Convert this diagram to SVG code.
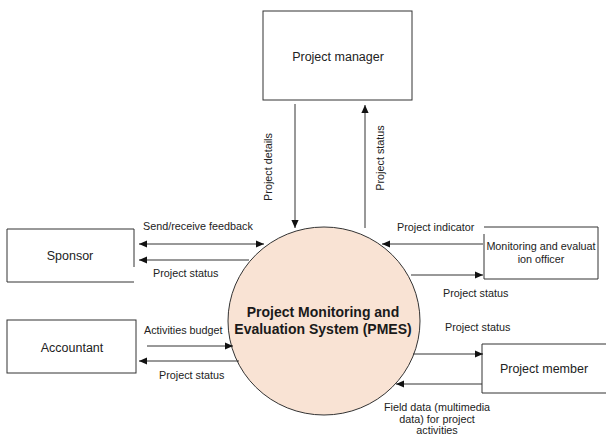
<svg xmlns="http://www.w3.org/2000/svg" width="608" height="437" viewBox="0 0 608 437">
<style>
  .box { fill: #ffffff; stroke: #333333; stroke-width: 1; }
  .node-label { font-family: "Liberation Sans", Arial, sans-serif; font-size: 12.5px; fill: #222222; text-anchor: middle; }
  .small-label { font-family: "Liberation Sans", Arial, sans-serif; font-size: 10.8px; fill: #222222; text-anchor: middle; }
  .edge-label { font-family: "Liberation Sans", Arial, sans-serif; font-size: 10.8px; fill: #222222; }
  .conn { fill: none; stroke: #333333; stroke-width: 1; }
  .center-label { font-family: "Liberation Sans", Arial, sans-serif; font-size: 14px; font-weight: bold; fill: #1a1a1a; text-anchor: middle; }
</style>
<defs>
  <marker id="arrow" viewBox="0 0 10 10" refX="10" refY="5" markerWidth="8" markerHeight="8" markerUnits="userSpaceOnUse" orient="auto-start-reverse">
    <path d="M0,0.5 L10,5 L0,9.5 Z" fill="#111111"/>
  </marker>
</defs>
<rect x="0" y="0" width="608" height="437" fill="#ffffff"/>

<g id="pmes">
  <ellipse cx="324" cy="321" rx="96" ry="94" fill="#f9e3d4" stroke="#333333" stroke-width="1"/>
  <text class="center-label" x="323" y="317">Project Monitoring and</text>
  <text class="center-label" x="323" y="334">Evaluation System (PMES)</text>
</g>

<g id="project-manager">
  <rect class="box" x="263" y="11" width="149" height="89"/>
  <text class="node-label" x="338" y="61">Project manager</text>
</g>

<g id="sponsor">
  <path class="box" d="M134,267 V229 H7 V282 H134"/>
  <text class="node-label" x="70" y="260">Sponsor</text>
</g>

<g id="accountant">
  <rect class="box" x="7" y="320" width="129" height="53"/>
  <text class="node-label" x="72" y="352">Accountant</text>
</g>

<g id="me-officer">
  <path class="box" d="M484,234 V279 H598 V227 H484"/>
  <text class="small-label" x="541" y="250">Monitoring and evaluat</text>
  <text class="small-label" x="541" y="263">ion officer</text>
</g>

<g id="project-member">
  <path class="box" d="M606,344 H482 V393 H606"/>
  <text class="node-label" x="544" y="373">Project member</text>
</g>

<g id="connectors">
  <line class="conn" x1="295" y1="104" x2="295" y2="228" marker-end="url(#arrow)"/>
  <text class="edge-label" transform="translate(272,167) rotate(-90)" text-anchor="middle">Project details</text>

  <line class="conn" x1="365" y1="228" x2="365" y2="105" marker-end="url(#arrow)"/>
  <text class="edge-label" transform="translate(384,158) rotate(-90)" text-anchor="middle">Project status</text>

  <line class="conn" x1="139" y1="244" x2="264" y2="244" marker-start="url(#arrow)" marker-end="url(#arrow)"/>
  <text class="edge-label" x="143" y="230">Send/receive feedback</text>

  <line class="conn" x1="249" y1="260" x2="139" y2="260" marker-end="url(#arrow)"/>
  <text class="edge-label" x="153" y="277">Project status</text>

  <line class="conn" x1="147" y1="346" x2="233" y2="346" marker-end="url(#arrow)"/>
  <text class="edge-label" x="144" y="334">Activities budget</text>

  <line class="conn" x1="239" y1="361" x2="139" y2="361" marker-end="url(#arrow)"/>
  <text class="edge-label" x="159" y="379">Project status</text>

  <line class="conn" x1="483" y1="244" x2="382" y2="244" marker-end="url(#arrow)"/>
  <text class="edge-label" x="397" y="231">Project indicator</text>

  <line class="conn" x1="411" y1="275" x2="483" y2="275" marker-end="url(#arrow)"/>
  <text class="edge-label" x="443" y="297">Project status</text>

  <line class="conn" x1="413" y1="354" x2="483" y2="354" marker-end="url(#arrow)"/>
  <text class="edge-label" x="445" y="331">Project status</text>

  <line class="conn" x1="482" y1="384" x2="396" y2="384" marker-end="url(#arrow)"/>
  <text class="edge-label" x="437" y="411" text-anchor="middle">Field data (multimedia</text>
  <text class="edge-label" x="437" y="423" text-anchor="middle">data) for project</text>
  <text class="edge-label" x="437" y="434" text-anchor="middle">activities</text>
</g>
</svg>
